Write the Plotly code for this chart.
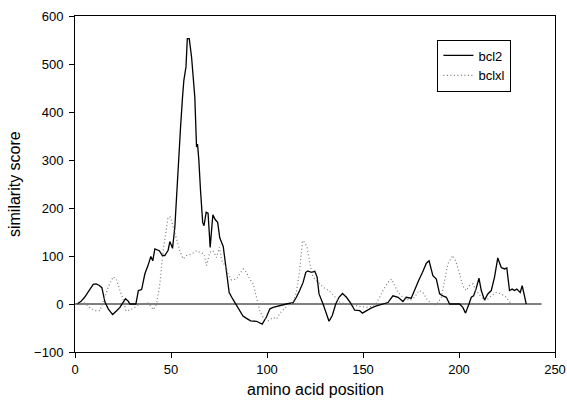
import plotly.graph_objects as go

# ---- data ----
bcl2_x = [1, 3, 5, 7, 9.5, 11, 12.5, 14, 15.6, 17.3,
          19.6, 21.7, 23.4, 25, 26.3, 27.7, 28.6, 31.7, 33, 34.7,
          36.4, 38, 39.5, 40.5, 41.6, 43.9, 45.5, 46.8, 48.5, 49.4,
          50.8, 52, 53.8, 55, 56, 56.7, 57.8, 58.5, 59.5, 60.7,
          62.4, 63.3, 63.8, 64.5, 65.4, 66.5, 67.2, 68.3, 69.3, 70.4,
          71.8, 73, 74.3, 75.4, 77.2, 78.7, 80.3, 82.2, 84, 85.8,
          87.5, 89.3, 91.5, 94.5, 97.5, 99.7, 101.5, 103.2, 105.8, 107.5,
          110.1, 113.6, 115.3, 117, 118.8, 120.2, 121.3, 123.1, 124.9, 126.1,
          127.1, 129.2, 130.9, 132.3, 134, 135.8, 137.5, 139.3, 141.4, 143.4,
          145.7, 148.3, 149.7, 151.8, 154.4, 157, 160.4, 163, 165.6, 168.3,
          170.8, 172.5, 175.1, 176.9, 179.1, 181, 183, 184.4, 186.4, 188.2,
          189.9, 191.6, 193.4, 195.1, 200.3, 202, 203.4, 205.2, 206.4, 207.6,
          209, 210.4, 211.6, 213.3, 215, 216.8, 218.5, 220.2, 222, 223.7,
          224.9, 226.3, 227.7, 228.9, 230.1, 231.9, 232.9, 234.1, 235]
bcl2_y = [0, 5, 14, 26, 41, 42, 39, 34, 4, -10,
          -22, -14, -7, 3, 11, 6, 0, 0, 28, 30,
          63, 80, 99, 90, 115, 111, 101, 101, 112, 130,
          116, 160, 300, 370, 431, 466, 494, 553, 553, 515,
          431, 327, 333, 300, 235, 170, 163, 191, 189, 118,
          186, 176, 170, 138, 120, 72, 24, 10, -2, -14,
          -25, -30, -35, -36, -42, -27, -10, -7, -4, -3,
          0, 3, 14, 28, 45, 66, 69, 66, 68, 56,
          21, 0, -21, -36, -24, 0, 14, 22, 14, 3,
          -13, -14, -19, -14, -8, -4, 0, 3, 17, 14,
          5, 14, 12, 31, 50, 66, 85, 90, 59, 52,
          21, 17, 14, 0, 0, -7, -19, 0, 14, 17,
          33, 54, 28, 8, 21, 28, 56, 96, 76, 73,
          75, 28, 31, 28, 31, 24, 38, 17, 0]

bclxl_x = [1, 5, 8, 10.4, 13, 15.6, 17.3, 19.9, 21.7, 23.4,
           25.1, 26.5, 28.3, 30.3, 33.8, 38.1, 40.8, 42.5, 44.2, 45.9,
           47.3, 48.5, 49.7, 51.1, 52.9, 54.6, 56.3, 58.1, 60.7, 63.3,
           65, 67.2, 68.5, 70.2, 71.9, 73.7, 75.2, 76.5, 78.2, 79.8,
           81.5, 84.1, 85.8, 87.6, 89.3, 91, 92.8, 94.5, 96.3, 98,
           100.6, 103.2, 105, 106.6, 108.4, 110.9, 113.6, 115.3, 117, 118.5,
           119.5, 120.9, 122.3, 124, 126.6, 129.2, 132.3, 135.3, 138.1, 141.4,
           145.7, 148.3, 151.8, 154.4, 157, 158.7, 160.4, 163, 164.8, 166.5,
           168.3, 170.8, 174.3, 176.9, 179.1, 181.2, 183.3, 185.6, 188.2, 190.8,
           192.5, 194.2, 196.8, 198.5, 200.3, 202, 203.7, 205.4, 207.2, 208.9,
           211.6, 214.1, 216.8, 219.4, 222, 224.6, 227.2]
bclxl_y = [0, 2, -8, -14, -14, 14, 35, 57, 50, 28,
           10, -14, -13, -9, 0, 2, -12, 0, 42, 111,
           153, 181, 181, 160, 132, 111, 94, 101, 104, 111,
           108, 104, 80, 108, 111, 97, 118, 90, 80, 63,
           50, 52, 63, 73, 66, 52, 42, 14, -15, -28,
           -35, -28, -31, -20, -12, -2, 3, 24, 70, 132,
           129, 118, 84, 56, 45, 35, 28, 14, 3, 0,
           -2, -5, -7, -5, 2, 14, 28, 45, 52, 38,
           24, 14, 7, 14, 28, 24, 10, 0, -2, 14,
           49, 84, 101, 87, 63, 38, 28, 38, 42, 28,
           14, 7, 17, 24, 21, 14, 0]

x_ticks = [0, 50, 100, 150, 200, 250]
y_ticks = [-100, 0, 100, 200, 300, 400, 500, 600]
zero_line_span = [-2, 243]
x_title = "amino acid position"
y_title = "similarity score"

FONT = "Liberation Sans, Arial, sans-serif"

fig = go.Figure()
fig.add_shape(type="line", xref="x", yref="y",
              x0=zero_line_span[0], x1=zero_line_span[1], y0=0, y1=0,
              line=dict(color="black", width=1), layer="below")
fig.add_trace(go.Scatter(x=bcl2_x, y=bcl2_y, mode="lines", name="bcl2",
                         line=dict(color="black", width=1.3)))
fig.add_trace(go.Scatter(x=bclxl_x, y=bclxl_y, mode="lines", name="bclxl",
                         line=dict(color="#7a7a7a", width=1.2,
                                   dash="1px,2.5px")))

# axis titles placed as annotations for exact positioning
fig.add_annotation(text=x_title, xref="paper", yref="paper",
                   x=0.5, y=-0.113, xanchor="center", yanchor="middle",
                   showarrow=False, font=dict(size=16, family=FONT))
fig.add_annotation(text=y_title, xref="paper", yref="paper",
                   x=-0.127, y=0.5, xanchor="center", yanchor="middle",
                   textangle=-90, showarrow=False,
                   font=dict(size=16, family=FONT))

fig.update_layout(
    width=567, height=409,
    margin=dict(l=75, r=12, t=16, b=57),
    paper_bgcolor="white", plot_bgcolor="white",
    font=dict(family=FONT, color="black", size=13),
    showlegend=True,
    legend=dict(x=0.755, y=0.93, xanchor="left", yanchor="top",
                bgcolor="white", bordercolor="black", borderwidth=1,
                font=dict(size=13), itemwidth=30,
                tracegroupgap=0),
    xaxis=dict(range=[0, 250], tickvals=x_ticks, showgrid=False,
               zeroline=False, showline=True, linecolor="black",
               linewidth=1, mirror=True, ticks="outside", ticklen=5,
               tickcolor="black", tickfont=dict(size=13), automargin=False),
    yaxis=dict(range=[-100, 600], tickvals=y_ticks, showgrid=False,
               zeroline=False, showline=True, linecolor="black",
               linewidth=1, mirror=True, ticks="outside", ticklen=5,
               tickcolor="black", tickfont=dict(size=13), automargin=False,
               ticklabelstandoff=3),
)

fig.write_html("out.html",
               config={"displayModeBar": False},
               post_script="document.body.style.margin='0';")
